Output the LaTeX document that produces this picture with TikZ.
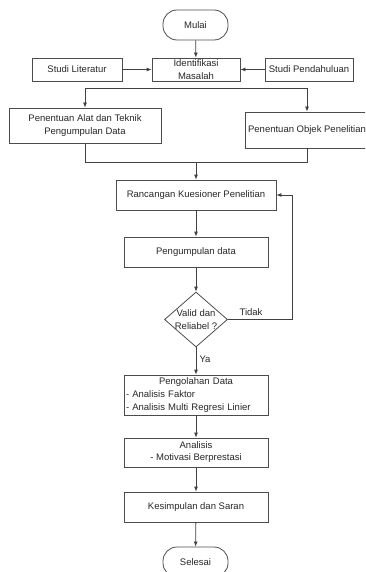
\documentclass[tikz,border=0pt]{standalone}
\usepackage{fontspec}
\setmainfont{Liberation Sans}
\usetikzlibrary{shapes.geometric,arrows.meta}

\begin{document}
\begin{tikzpicture}[x=1pt,y=-1pt,
  font=\fontsize{9.5}{13}\selectfont,
  box/.style={draw=black!70,line width=0.8pt,rectangle,inner sep=0pt,align=center,text=black!85},
  terminal/.style={box,rounded corners=14pt,minimum width=65pt,minimum height=30pt},
  arr/.style={draw=black!75,line width=0.8pt,-{Latex[length=5pt,width=4pt]}},
  line/.style={draw=black!75,line width=0.8pt}]
  \clip (0,0) rectangle (365,572);

  % Start
  \node[terminal] (mulai) at (195.5,25) {Mulai};

  % Row 1 - problem and its sources
  \node[box,minimum width=88pt,minimum height=23pt] (identifikasi) at (196,69.5) {Identifikasi\\Masalah};
  \node[box,minimum width=90pt,minimum height=23pt] (literatur) at (77,69.5) {Studi Literatur};
  \node[box,minimum width=88pt,minimum height=23pt] (pendahuluan) at (309,69.5) {Studi Pendahuluan};

  % Row 2 - two branches
  \coordinate (split) at (196,88);
  \node[box,minimum width=152pt,minimum height=35pt] (alat) at (85,125.5) {Penentuan Alat dan Teknik\\Pengumpulan Data};
  \node[box,minimum width=124pt,minimum height=36pt] (objek) at (307,130) {Penentuan Objek Penelitian};
  \coordinate (merge) at (196,162);

  % Main column
  \node[box,minimum width=160pt,minimum height=30pt] (rancangan) at (196,195) {Rancangan Kuesioner Penelitian};
  \node[box,minimum width=144pt,minimum height=30pt] (pengumpulan) at (196,252) {Pengumpulan data};
  \node[draw=black!70,line width=0.8pt,diamond,inner sep=0pt,minimum width=63pt,minimum height=55pt,
        label={[align=center,text=black!85]center:Valid dan\\Reliabel ?}] (valid) at (196,319.5) {};
  \coordinate (loop) at (292,319.5);
  \node[text=black!85] (tidak) at (251,312) {Tidak};
  \node[text=black!85] (ya) at (205,359) {Ya};
  \node[box,minimum width=144pt,minimum height=40pt,text width=140pt,align=left] (pengolahan) at (196,395)
    {\hfil Pengolahan Data\hfil\\- Analisis Faktor\\- Analisis Multi Regresi Linier};
  \node[box,minimum width=144pt,minimum height=29pt,font=\fontsize{9.5}{12}\selectfont] (analisis) at (196,452.5) {Analisis\\- Motivasi Berprestasi};
  \node[box,minimum width=144pt,minimum height=30pt] (kesimpulan) at (196,507) {Kesimpulan dan Saran};

  % End
  \node[terminal] (selesai) at (195.5,562) {Selesai};

  % Connectors
  \draw[arr] (mulai) -- (identifikasi);
  \draw[arr] (literatur) -- (identifikasi);
  \draw[arr] (pendahuluan) -- (identifikasi);
  \draw[arr] (split) -| (alat);
  \draw[arr] (split) -| (objek);
  \draw[line] (alat.south) |- (merge);
  \draw[line] (objek.south) |- (merge);
  \draw[arr] (merge) -- (rancangan);
  \draw[arr] (rancangan) -- (pengumpulan);
  \draw[arr] (pengumpulan) -- (valid);
  \draw[arr] (valid.east) -- (loop) |- (rancangan.east);
  \draw[arr] (valid) -- (pengolahan);
  \draw[arr] (pengolahan) -- (analisis);
  \draw[arr] (analisis) -- (kesimpulan);
  \draw[arr] (kesimpulan) -- (selesai);
\end{tikzpicture}
\end{document}
